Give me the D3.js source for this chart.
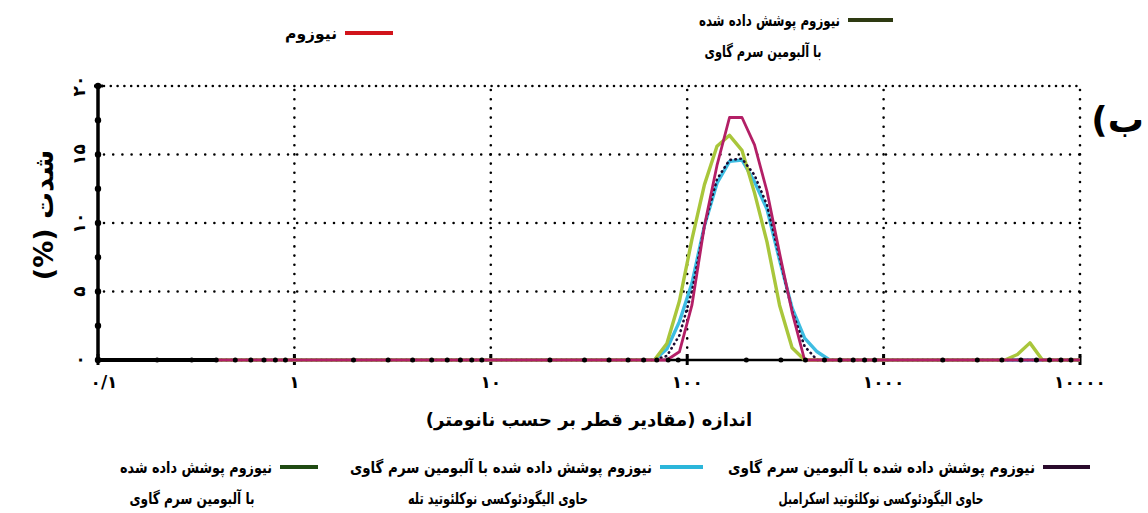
<!DOCTYPE html>
<html>
<head>
<meta charset="utf-8">
<script src="https://cdn.jsdelivr.net/npm/d3@7"></script>
<style>
  body { margin: 0; background: #fff; }
  svg { display: block; }
  text { font-family: "DejaVu Sans", sans-serif; font-weight: bold; fill: #000; }
</style>
</head>
<body>
<div id="chart"></div>
<script>
// size bins (nm) and intensity (%) per sample
var sizes = [0.4, 68.06, 78.82, 91.28, 105.7, 122.4, 141.8, 164.2, 190.1, 220.2, 255, 295.3, 342, 396.1, 458.7, 531.2, 4145, 4801, 5560, 6439, 10000];
var nanosome = [0, 0, 0, 0.6, 4.0, 9.8, 14.2, 17.7, 17.7, 15.7, 12.3, 7.8, 3.5, 0, 0, 0, 0, 0, 0, 0, 0];
var bsaCoated = [0, 0, 1.2, 4.3, 8.8, 12.8, 15.6, 16.4, 15.3, 12.2, 8.6, 4.0, 0.9, 0, 0, 0, 0, 0.4, 1.25, 0, 0];
var trapLoaded = [0, 0, 0.8, 2.8, 5.6, 9.8, 12.9, 14.5, 14.6, 13.0, 11.0, 7.3, 3.8, 1.6, 0.6, 0, 0, 0, 0, 0, 0];
var scrambleLoaded = [0, 0, 0.3, 1.8, 5.0, 9.8, 13.2, 14.6, 14.7, 13.5, 11.3, 7.5, 3.6, 1.0, 0, 0, 0, 0, 0, 0, 0];

var xTicks = [0.1, 1, 10, 100, 1000, 10000];
var xTickLabels = ['۰/۱', '۱', '۱۰', '۱۰۰', '۱۰۰۰', '۱۰۰۰۰'];
var yTicks = [0, 5, 10, 15, 20];
var yTickLabels = ['۰', '۵', '۱۰', '۱۵', '۲۰'];

var width = 1148, height = 513;

var svg = d3.select('#chart').append('svg')
  .attr('width', width)
  .attr('height', height);

var x = d3.scaleLog().domain([0.1, 10000]).range([98, 1080]);
var y = d3.scaleLinear().domain([0, 20]).range([360, 86]);

// dotted grid
svg.selectAll('.hgrid')
  .data(yTicks.slice(1))
  .enter().append('line')
  .attr('x1', x(0.1) + 6).attr('x2', x(10000))
  .attr('y1', function(d) { return y(d); })
  .attr('y2', function(d) { return y(d); })
  .style('stroke', '#000')
  .style('stroke-width', 2.6)
  .style('stroke-linecap', 'round')
  .style('stroke-dasharray', function(d) { return d == 20 ? '0,6.8' : '0,9.2'; });

svg.selectAll('.vgrid')
  .data(xTicks.slice(1))
  .enter().append('line')
  .attr('x1', function(d) { return x(d); })
  .attr('x2', function(d) { return x(d); })
  .attr('y1', y(20) + 4).attr('y2', y(0))
  .style('stroke', '#000')
  .style('stroke-width', 2.6)
  .style('stroke-linecap', 'round')
  .style('stroke-dasharray', '0,9.2');

// axes
svg.append('line')
  .attr('x1', x(0.1)).attr('x2', x(0.1))
  .attr('y1', y(20)).attr('y2', y(0))
  .style('stroke', '#000').style('stroke-width', 3.5);
svg.append('line')
  .attr('x1', x(0.1) - 4).attr('x2', x(0.1) + 5)
  .attr('y1', y(20)).attr('y2', y(20))
  .style('stroke', '#000').style('stroke-width', 3);
svg.append('line')
  .attr('x1', x(0.1)).attr('x2', x(10000))
  .attr('y1', y(0)).attr('y2', y(0))
  .style('stroke', '#000').style('stroke-width', 2.6);
svg.append('line')
  .attr('x1', x(0.1)).attr('x2', x(sizes[0]))
  .attr('y1', y(0)).attr('y2', y(0))
  .style('stroke', '#000').style('stroke-width', 4);

svg.selectAll('.ymin')
  .data(d3.range(0, 20.1, 2.5))
  .enter().append('circle')
  .attr('cx', x(0.1))
  .attr('cy', function(d) { return y(d); })
  .attr('r', 3.2)
  .style('fill', '#000');

svg.selectAll('.xmaj')
  .data(xTicks)
  .enter().append('line')
  .attr('x1', function(d) { return x(d); })
  .attr('x2', function(d) { return x(d); })
  .attr('y1', y(0) - 6).attr('y2', y(0) + 5)
  .style('stroke', '#000').style('stroke-width', 3);

// curves
var line = d3.line()
  .x(function(d, i) { return x(sizes[i]); })
  .y(function(d) { return y(d); });

svg.append('path').datum(trapLoaded)
  .attr('d', line)
  .style('fill', 'none').style('stroke', '#3dbde2').style('stroke-width', 3.4)
  .style('stroke-linejoin', 'round');

svg.append('path').datum(bsaCoated)
  .attr('d', line)
  .style('fill', 'none').style('stroke', '#a9c63b').style('stroke-width', 3.4)
  .style('stroke-linejoin', 'round');

svg.append('path').datum(scrambleLoaded)
  .attr('d', line)
  .style('fill', 'none').style('stroke', '#1c0b33').style('stroke-width', 2.6)
  .style('stroke-linecap', 'round')
  .style('stroke-dasharray', '0.5,4.5');

svg.append('path').datum(nanosome)
  .attr('d', line)
  .style('fill', 'none').style('stroke', '#b31f66').style('stroke-width', 2.8)
  .style('stroke-linejoin', 'round');

// minor x ticks as dots on the baseline
var minor = x.ticks().filter(function(d) {
  return Math.abs(Math.log10(d) - Math.round(Math.log10(d))) > 1e-6;
});
svg.selectAll('.xmin')
  .data(minor)
  .enter().append('circle')
  .attr('cx', function(d) { return x(d); })
  .attr('cy', y(0))
  .attr('r', 2.5)
  .style('fill', '#000');

// tick labels
svg.selectAll('.xlab')
  .data(xTicks)
  .enter().append('text')
  .attr('x', function(d, i) { return x(d) + (i == 0 ? 6 : 0); })
  .attr('y', 388)
  .attr('text-anchor', 'middle')
  .style('font-size', '17px')
  .text(function(d, i) { return xTickLabels[i]; });

svg.selectAll('.ylab')
  .data(yTicks)
  .enter().append('text')
  .attr('transform', function(d) { return 'translate(79,' + y(d) + ') rotate(-90)'; })
  .attr('text-anchor', 'middle')
  .attr('dy', '0.35em')
  .style('font-size', '17px')
  .text(function(d, i) { return yTickLabels[i]; });

// axis titles
svg.append('text')
  .attr('transform', 'translate(44,' + 215 + ') rotate(-90)')
  .attr('text-anchor', 'middle')
  .attr('dy', '0.35em')
  .attr('direction', 'rtl')
  .style('font-size', '27px')
  .text('شدت (%)');

svg.append('text')
  .attr('x', 589).attr('y', 426)
  .attr('text-anchor', 'middle')
  .style('font-size', '18px')
  .text('اندازه (مقادیر قطر بر حسب نانومتر)');

svg.append('text')
  .attr('x', 1144).attr('y', 132)
  .attr('text-anchor', 'end')
  .style('font-size', '36px')
  .text('(ب');

// legends
var legendColors = ['#d1141b', '#2e3a12', '#1f4a12', '#2bb6da', '#2a0a2c'];
var legendLine1 = ['نیوزوم', 'نیوزوم پوشش داده شده', 'نیوزوم پوشش داده شده',
  'نیوزوم پوشش داده شده با آلبومین سرم گاوی', 'نیوزوم پوشش داده شده با آلبومین سرم گاوی'];
var legendLine2 = ['', 'با آلبومین سرم گاوی', 'با آلبومین سرم گاوی',
  'حاوی الیگودئوکسی نوکلئوتید تله', 'حاوی الیگودئوکسی نوکلئوتید اسکرامبل'];
var legendSwatchX = [345, 848, 280, 660, 1043];
var legendSwatchW = [48, 45, 38, 43, 47];
var legendY = [33, 20, 467, 467, 467];
var legendLine2X = [0, 763, 192, 498, 881];
var legendLine1W = [52, 141, 152, 302, 307];
var legendLine2W = [0, 117, 125, 180, 205];

function fitText(sel, w) {
  var len = sel.node().getComputedTextLength();
  if (len > w) sel.attr('textLength', w).attr('lengthAdjust', 'spacingAndGlyphs');
}

legendColors.forEach(function(c, i) {
  svg.append('line')
    .attr('x1', legendSwatchX[i]).attr('x2', legendSwatchX[i] + legendSwatchW[i])
    .attr('y1', legendY[i]).attr('y2', legendY[i])
    .style('stroke', c).style('stroke-width', 4);
  var t1 = svg.append('text')
    .attr('x', legendSwatchX[i] - 8).attr('y', legendY[i])
    .attr('dy', '0.35em')
    .attr('text-anchor', 'end')
    .style('font-size', '16px')
    .text(legendLine1[i]);
  fitText(t1, legendLine1W[i]);
  if (legendLine2[i]) {
    var t2 = svg.append('text')
      .attr('x', legendLine2X[i]).attr('y', legendY[i] + 31)
      .attr('dy', '0.35em')
      .attr('text-anchor', 'middle')
      .style('font-size', '16px')
      .text(legendLine2[i]);
    fitText(t2, legendLine2W[i]);
  }
});
</script>
</body>
</html>
